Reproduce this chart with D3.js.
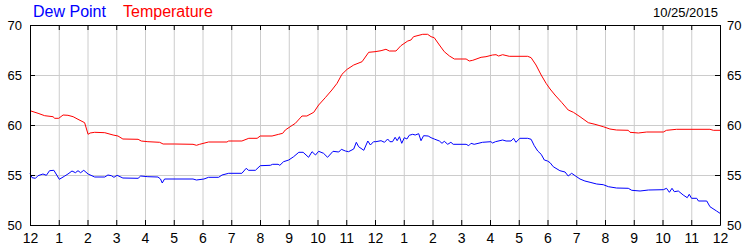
<!DOCTYPE html>
<html>
<head>
<meta charset="utf-8">
<script src="https://cdn.jsdelivr.net/npm/d3@7"></script>
<style>
    body { margin: 0; background: #fff; }
    svg { display: block; font-family: Arial, "Liberation Sans", sans-serif; }
</style>
</head>
<body>
<svg></svg>
<script>
// hours after midnight, 10/25/2015
let tempTimes = [0, .28, .51, .8, .86, 1.0, 1.15, 1.32, 1.5, 1.67, 1.9, 2.02, 2.09, 2.25, 2.6, 2.89, 3.06, 3.23, 3.76, 3.87,
    4.1, 4.51, 4.63, 5.03, 5.67, 5.79, 5.9, 6.21, 6.85, 6.91, 7.37, 7.61, 7.9, 8.01, 8.42, 8.65, 8.79, 8.88, 9.05, 9.23,
    9.46, 9.63, 9.87, 10.04, 10.27, 10.5, 10.68, 10.85, 11.03, 11.26, 11.55, 11.78, 12.0, 12.21, 12.38, 12.5, 12.73, 12.9, 13.14, 13.25,
    13.34, 13.66, 13.83, 13.95, 14.06, 14.24, 14.41, 14.59, 14.76, 15.17, 15.28, 15.4, 15.69, 15.86, 16.09, 16.21, 16.3, 16.44, 16.67, 17.31,
    17.43, 17.6, 17.78, 17.95, 18.09, 18.26, 18.49, 18.72, 18.9, 19.13, 19.42, 19.65, 19.94, 20.17, 20.4, 20.81, 20.87, 21.16, 21.45, 22.03,
    22.14, 22.49, 23.65, 23.77, 24.0]
let tempValues = [61.43, 61.17, 60.93, 60.83, 60.67, 60.67, 61.0, 60.97, 60.83, 60.57, 60.23, 59.07, 59.2, 59.27, 59.23, 59.0, 58.9, 58.6, 58.57, 58.4,
    58.33, 58.27, 58.1, 58.1, 58.07, 57.97, 58.07, 58.3, 58.3, 58.4, 58.4, 58.67, 58.67, 58.9, 58.9, 59.07, 59.17, 59.5, 59.83, 60.17,
    60.9, 60.9, 61.27, 62.0, 62.73, 63.5, 64.17, 65.07, 65.57, 66.0, 66.33, 67.27, 67.33, 67.43, 67.57, 67.4, 67.4, 67.93, 68.4, 68.5,
    68.83, 69.07, 69.07, 68.83, 68.73, 68.0, 67.33, 66.9, 66.6, 66.6, 66.4, 66.47, 66.77, 66.83, 67.0, 67.03, 66.9, 67.03, 66.87, 66.87,
    66.73, 66.0, 65.0, 64.17, 63.6, 63.0, 62.27, 61.5, 61.27, 60.83, 60.23, 60.07, 59.83, 59.6, 59.5, 59.47, 59.27, 59.2, 59.3, 59.3,
    59.47, 59.57, 59.57, 59.47, 59.47]

let dewTimes = [0, .07, .19, .28, .45, .57, .68, .83, 1.02, 1.21, 1.32, 1.46, 1.58, 1.67, 1.76, 1.87, 2.02, 2.25, 2.6, 2.71,
    2.83, 2.92, 3.03, 3.23, 3.76, 3.85, 4.1, 4.45, 4.54, 4.6, 4.68, 5.67, 5.79, 6.05, 6.21, 6.56, 6.68, 6.91, 7.37, 7.52,
    7.6, 7.84, 8.01, 8.36, 8.44, 8.63, 8.69, 8.82, 9.0, 9.17, 9.35, 9.5, 9.69, 9.81, 9.93, 10.04, 10.21, 10.35, 10.54, 10.74,
    10.83, 10.97, 11.08, 11.26, 11.35, 11.43, 11.61, 11.75, 11.84, 11.95, 12.03, 12.21, 12.33, 12.44, 12.52, 12.61, 12.7, 12.77, 12.85, 12.93,
    13.02, 13.11, 13.19, 13.31, 13.4, 13.52, 13.6, 13.69, 13.85, 13.95, 14.06, 14.24, 14.33, 14.41, 14.53, 14.64, 14.72, 15.17, 15.26, 15.34,
    15.45, 15.74, 16.03, 16.09, 16.19, 16.44, 16.56, 16.73, 16.82, 16.9, 17.04, 17.31, 17.43, 17.54, 17.66, 17.78, 17.89, 18.0, 18.09, 18.2,
    18.43, 18.61, 18.72, 18.84, 18.96, 19.13, 19.3, 19.48, 19.71, 19.94, 20.12, 20.4, 20.81, 20.93, 21.22, 21.51, 22.03, 22.14, 22.24, 22.33,
    22.41, 22.55, 22.72, 22.86, 22.93, 23.01, 23.19, 23.25, 23.54, 23.65, 23.88, 24.0]
let dewValues = [55.17, 54.73, 54.67, 54.93, 55.1, 54.97, 55.43, 55.47, 54.57, 54.9, 55.1, 55.4, 55.23, 55.43, 55.23, 55.47, 55.1, 54.8, 54.8, 55.0,
    54.93, 54.77, 54.97, 54.7, 54.67, 54.9, 54.83, 54.8, 54.6, 54.2, 54.6, 54.6, 54.5, 54.6, 54.77, 54.77, 55.0, 55.17, 55.17, 55.67,
    55.47, 55.47, 55.93, 55.97, 56.07, 56.07, 55.97, 56.33, 56.5, 56.83, 57.27, 57.27, 56.77, 57.33, 57.0, 57.37, 57.17, 56.77, 57.37, 57.3,
    57.57, 57.4, 57.33, 57.6, 58.27, 57.83, 57.47, 58.4, 58.0, 58.33, 58.33, 58.43, 58.27, 58.6, 58.33, 58.33, 58.77, 58.43, 58.83, 58.17,
    58.73, 58.6, 58.97, 59.07, 59.0, 59.13, 58.43, 58.93, 58.9, 58.73, 58.6, 58.4, 58.17, 58.37, 58.07, 58.27, 58.07, 58.07, 57.93, 58.17,
    58.07, 58.27, 58.33, 58.2, 58.33, 58.5, 58.4, 58.4, 58.67, 58.27, 58.67, 58.67, 58.57, 57.93, 57.4, 57.07, 56.5, 56.4, 56.23, 55.83,
    55.43, 55.3, 54.9, 55.17, 54.93, 54.6, 54.4, 54.27, 54.1, 54.03, 53.83, 53.7, 53.67, 53.47, 53.4, 53.5, 53.53, 53.67, 53.27, 53.67,
    53.33, 53.4, 53.0, 52.73, 53.07, 52.67, 52.67, 52.4, 52.4, 51.83, 51.4, 51.17]

let hourTicks = d3.range(0, 25)
let hourLabels = ['12', '1', '2', '3', '4', '5', '6', '7', '8', '9', '10', '11', '12', '1', '2', '3', '4', '5', '6', '7', '8', '9', '10', '11', '12']
let valueTicks = [50, 55, 60, 65, 70]
let dateLabel = '10/25/2015'

let width = 750
let height = 250
let plotLeft = 30
let plotRight = 720
let plotTop = 25
let plotBottom = 225

let svg = d3.select('svg')
    .attr('width', width)
    .attr('height', height)

let xScale = d3.scaleLinear().domain([0, 24]).range([plotLeft, plotRight])
let yScale = d3.scaleLinear().domain([50, 70]).range([plotBottom, plotTop])

// grid
svg.append('g')
    .attr('transform', 'translate(0,' + plotBottom + ')')
    .call(d3.axisBottom(xScale).tickValues(hourTicks).tickSize(-(plotBottom - plotTop)).tickFormat(''))
    .call(g => g.select('.domain').remove())
    .call(g => g.selectAll('line').attr('stroke', '#cccccc'))

svg.append('g')
    .attr('transform', 'translate(' + plotLeft + ',0)')
    .call(d3.axisLeft(yScale).tickValues(valueTicks).tickSize(-(plotRight - plotLeft)).tickFormat(''))
    .call(g => g.select('.domain').remove())
    .call(g => g.selectAll('line').attr('stroke', '#cccccc'))

// series
let drawLine = (times, values, color) => {
    let pts = times.map((t, i) => [t, values[i]])
    svg.append('path')
        .datum(pts)
        .attr('fill', 'none')
        .attr('stroke', color)
        .attr('stroke-width', 1)
        .attr('d', d3.line().x(d => xScale(d[0])).y(d => yScale(d[1])))
}
drawLine(tempTimes, tempValues, '#ff0000')
drawLine(dewTimes, dewValues, '#0000ff')

// frame axes
let styleAxis = g => {
    g.select('.domain').attr('stroke', '#000')
    g.selectAll('.tick line').attr('stroke', '#000')
    g.selectAll('text').attr('fill', '#000').style('font-size', '13px').style('font-family', 'Arial, "Liberation Sans", sans-serif')
}

svg.append('g')
    .attr('transform', 'translate(0,' + plotBottom + ')')
    .call(d3.axisBottom(xScale).tickValues(hourTicks).tickSize(-5).tickSizeOuter(0).tickPadding(8)
        .tickFormat((d, i) => hourLabels[i]))
    .call(styleAxis)
    .call(g => g.selectAll('text').style('font-size', '14px'))

svg.append('g')
    .attr('transform', 'translate(0,' + plotTop + ')')
    .call(d3.axisTop(xScale).tickValues(hourTicks).tickSize(-5).tickSizeOuter(0).tickFormat(''))
    .call(styleAxis)

svg.append('g')
    .attr('transform', 'translate(' + plotLeft + ',0)')
    .call(d3.axisLeft(yScale).tickValues(valueTicks).tickSize(-5).tickSizeOuter(0).tickPadding(8))
    .call(styleAxis)

svg.append('g')
    .attr('transform', 'translate(' + plotRight + ',0)')
    .call(d3.axisRight(yScale).tickValues(valueTicks).tickSize(-5).tickSizeOuter(0).tickPadding(7))
    .call(styleAxis)

// title
svg.append('text')
    .attr('x', 33).attr('y', 17)
    .attr('fill', '#0000ff')
    .style('font-size', '16px')
    .text('Dew Point')

svg.append('text')
    .attr('x', 123).attr('y', 17)
    .attr('fill', '#ff0000')
    .style('font-size', '16px')
    .text('Temperature')

svg.append('text')
    .attr('x', 718).attr('y', 17)
    .attr('text-anchor', 'end')
    .attr('fill', '#000')
    .style('font-size', '13px')
    .text(dateLabel)
</script>
</body>
</html>
